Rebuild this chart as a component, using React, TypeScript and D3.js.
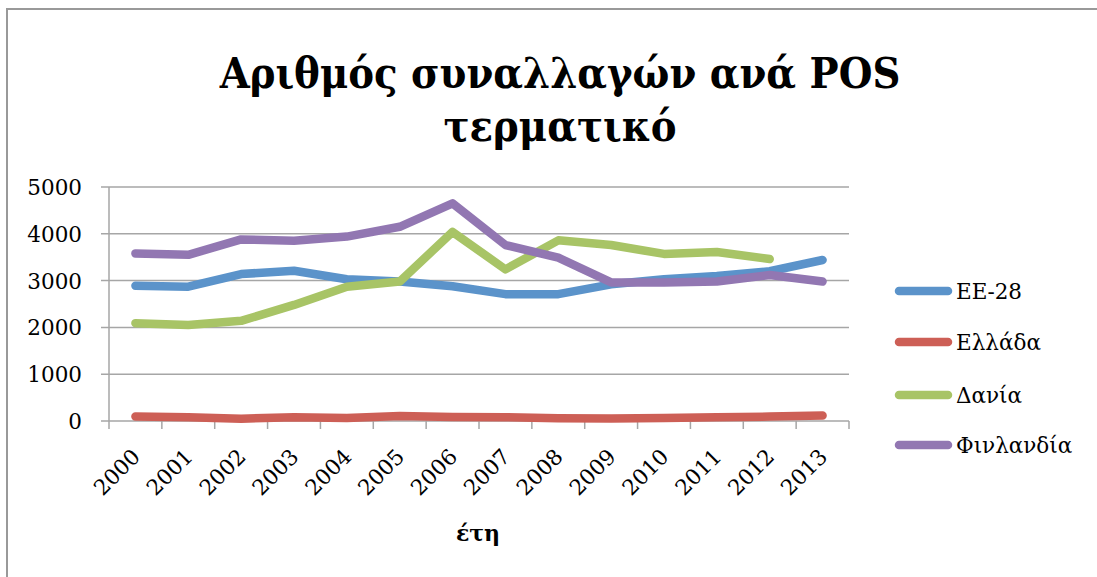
import React from "react";
import * as d3 from "d3";

const years = ["2000", "2001", "2002", "2003", "2004", "2005", "2006", "2007", "2008", "2009", "2010", "2011", "2012", "2013"];
const eu28 = [2890, 2870, 3140, 3210, 3030, 2980, 2880, 2710, 2710, 2920, 3030, 3100, 3200, 3440];
const greece = [95, 80, 50, 80, 65, 105, 85, 80, 60, 55, 65, 80, 95, 115];
const denmark = [2090, 2050, 2140, 2480, 2870, 2980, 4040, 3240, 3860, 3760, 3570, 3610, 3460, null];
const finland = [3580, 3550, 3880, 3850, 3940, 4150, 4650, 3760, 3490, 2960, 2960, 2980, 3120, 2980];
const yTicks = [0, 1000, 2000, 3000, 4000, 5000];

const seriesNames = ["ΕΕ-28", "Ελλάδα", "Δανία", "Φινλανδία"];
const seriesColors = ["#5B93CA", "#CD5F56", "#A8C466", "#9277B2"];
const seriesValues = [eu28, greece, denmark, finland];

const W = 1097;
const H = 577;
const plot = { left: 109, right: 849, top: 187, bottom: 421 };
const tickFont = "'DejaVu Serif', serif";
const gridColor = "#a6a6a6";

export default function App() {
  const x = d3.scaleBand().domain(years).range([plot.left, plot.right]);
  const y = d3.scaleLinear().domain([0, 5000]).range([plot.bottom, plot.top]);

  const line = d3
    .line<number | null>()
    .defined(d => d !== null)
    .x((_, i) => (x(years[i]) as number) + x.bandwidth() / 2)
    .y(d => y(d as number));

  const bandEdges = years.map(yr => x(yr) as number).concat([plot.right]);

  return (
    <svg width={W} height={H} style={{ position: "absolute", left: 0, top: 0 }}>
      <rect x={0} y={0} width={W} height={H} fill="#fff" />
      {/* chart frame (only the left and top edges are inside the picture) */}
      <path d={`M7,${H + 5} V9 H${W + 5}`} fill="none" stroke="#999" strokeWidth={2} />

      <g fontFamily="'DejaVu Serif', serif" fontWeight="bold" fontSize={43} textAnchor="middle" fill="#000" style={{ fontStretch: "condensed" }}>
        <text x={560} y={88}>Αριθμός συναλλαγών ανά POS</text>
        <text x={560} y={141}>τερματικό</text>
      </g>

      {/* horizontal gridlines and y axis */}
      {yTicks.map(t => (
        <g key={t}>
          <line x1={plot.left - 8} x2={plot.right} y1={y(t)} y2={y(t)} stroke={gridColor} strokeWidth={1.5} />
          <text x={82} y={y(t) + 8} textAnchor="end" fontFamily={tickFont} fontSize={21.5} fill="#000">
            {t}
          </text>
        </g>
      ))}
      <line x1={plot.left} x2={plot.left} y1={plot.top} y2={plot.bottom} stroke={gridColor} strokeWidth={1.5} />

      {/* x axis ticks and rotated labels */}
      {bandEdges.map((e, i) => (
        <line key={i} x1={e} x2={e} y1={plot.bottom} y2={plot.bottom + 8} stroke={gridColor} strokeWidth={1.5} />
      ))}
      {years.map(yr => {
        const cx = (x(yr) as number) + x.bandwidth() / 2 + 6;
        const cy = 458;
        return (
          <text
            key={yr}
            x={cx}
            y={cy}
            textAnchor="end"
            fontFamily={tickFont}
            fontSize={21.5}
            fill="#000"
            transform={`rotate(-45 ${cx} ${cy})`}
          >
            {yr}
          </text>
        );
      })}
      <text x={478} y={541} textAnchor="middle" fontFamily={tickFont} fontWeight="bold" fontSize={22} fill="#000">
        έτη
      </text>

      {/* series lines */}
      {seriesValues.map((vals, i) => (
        <path
          key={seriesNames[i]}
          d={line(vals) || ""}
          fill="none"
          stroke={seriesColors[i]}
          strokeWidth={8.5}
          strokeLinecap="round"
          strokeLinejoin="round"
        />
      ))}

      {/* legend */}
      {seriesNames.map((name, i) => {
        const ly = [291, 342, 395, 445][i];
        return (
          <g key={name}>
            <line x1={899} x2={948} y1={ly} y2={ly} stroke={seriesColors[i]} strokeWidth={8.5} strokeLinecap="round" />
            <text x={956} y={ly + 8} fontFamily={tickFont} fontSize={21.5} fill="#000">
              {name}
            </text>
          </g>
        );
      })}
    </svg>
  );
}
